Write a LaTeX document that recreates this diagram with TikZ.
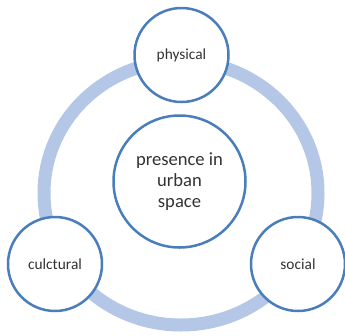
\documentclass[tikz,border=0pt]{standalone}
\usepackage{fontspec}
\setmainfont{Carlito}
\definecolor{ringblue}{HTML}{B4C7E7}
\definecolor{edgeblue}{HTML}{4A7EBB}
\definecolor{txt}{HTML}{333333}
\begin{document}
\begin{tikzpicture}[x=1pt,y=-1pt,
  outer/.style={circle,draw=edgeblue,line width=2.5pt,fill=white,inner sep=0pt,
    minimum size=94pt,text=txt,font=\fontsize{15.4pt}{18pt}\selectfont},
  hub/.style={circle,draw=edgeblue,line width=2.5pt,fill=white,inner sep=0pt,
    minimum size=132pt,text=txt,align=center,font=\fontsize{18.6pt}{21pt}\selectfont}]
\useasboundingbox (0,0) rectangle (345,335);
\draw[ringblue,line width=13pt] (181,193) ellipse [x radius=137pt, y radius=132pt];
\node[hub] (center) at (179.5,181.5) {presence in\\urban\\space};
\node[outer] (physical) at (181.5,55) {physical};
\node[outer] (cultural) at (55,264) {culctural};
\node[outer] (social) at (298,264) {social};
\end{tikzpicture}
\end{document}
